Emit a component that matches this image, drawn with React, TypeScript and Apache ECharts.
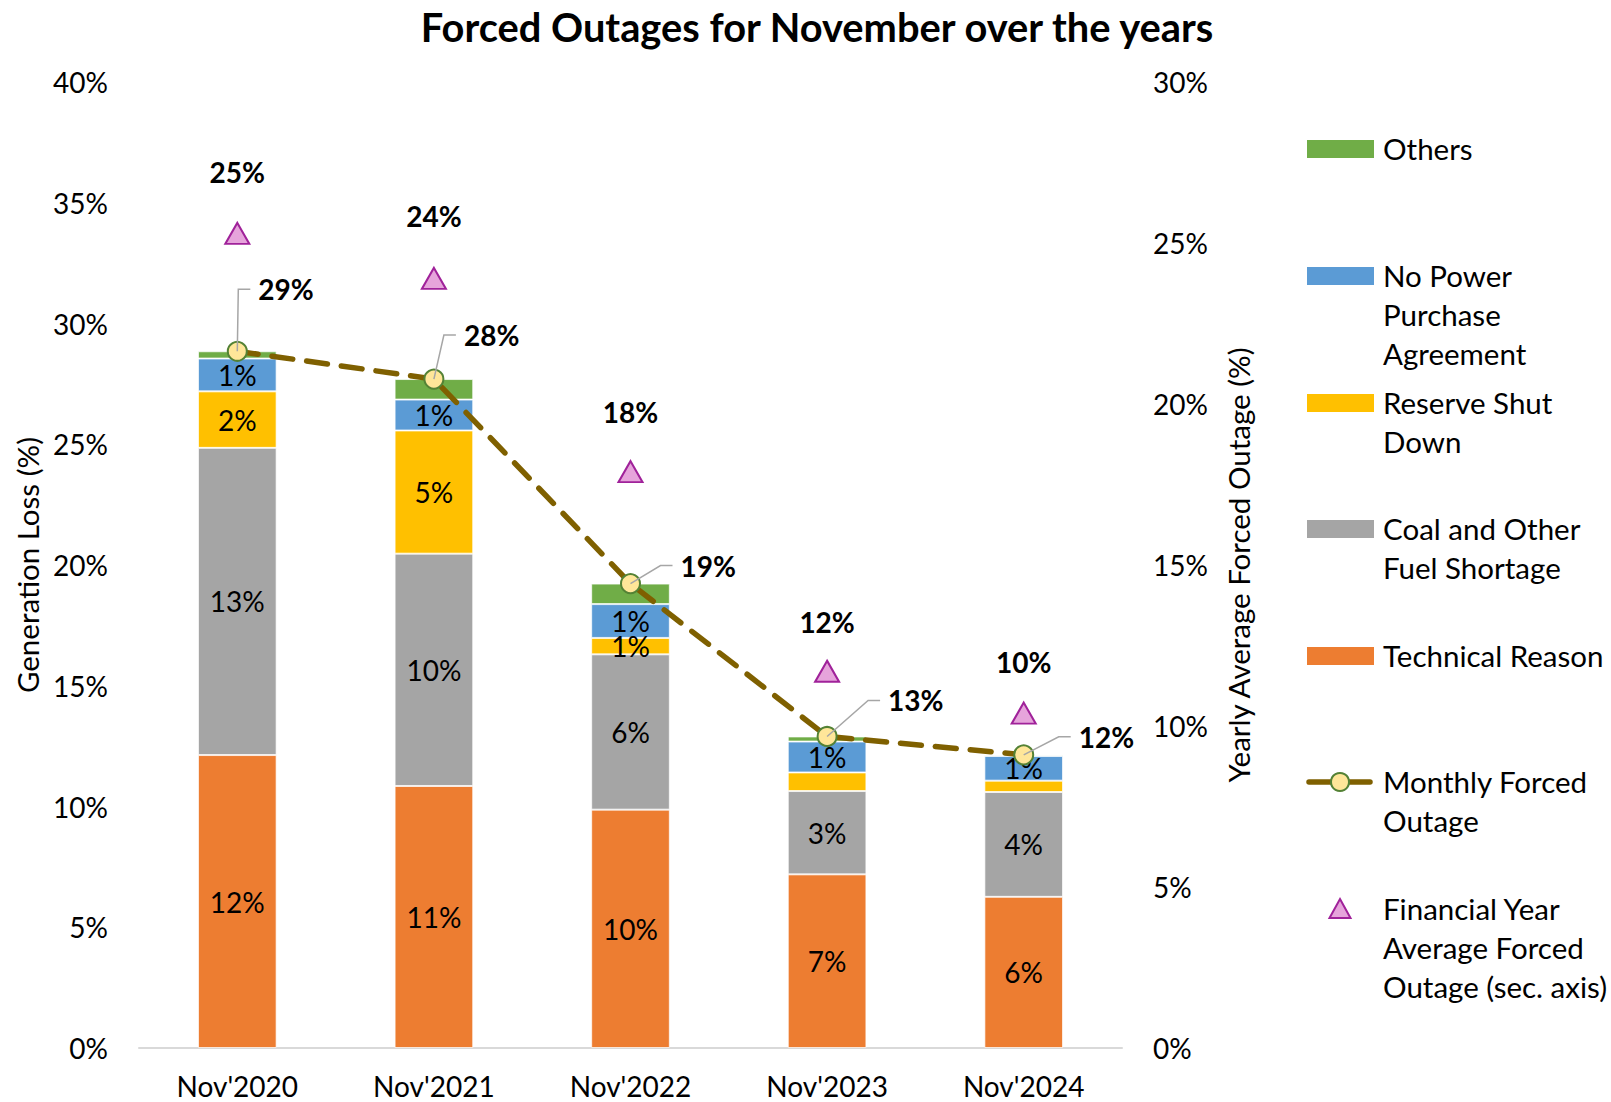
import React, { useEffect, useRef } from "react";
import * as echarts from "echarts";

const categories = ["Nov'2020", "Nov'2021", "Nov'2022", "Nov'2023", "Nov'2024"];
const technicalReason = [12.13, 10.85, 9.87, 7.19, 6.26];
const coalShortage = [12.72, 9.62, 6.43, 3.45, 4.34];
const reserveShutDown = [2.34, 5.1, 0.68, 0.77, 0.47];
const noPPA = [1.36, 1.28, 1.4, 1.28, 1.02];
const others = [0.3, 0.85, 0.85, 0.21, 0.05];
const monthlyForcedOutage = [28.85, 27.7, 19.23, 12.9, 12.14];
const fyAverageForcedOutage = [25.3, 23.9, 17.9, 11.7, 10.4];
const reserveLabelShown = [true, true, true, false, false];
const monthlyLabelOffsets = [
  [21, -62],
  [30, -44],
  [50, -18],
  [61, -36],
  [55, -18],
];
const fyLabelDistances = [36, 37, 34, 24, 26];

const legendNames = [
  "Others",
  "No Power\nPurchase\nAgreement",
  "Reserve Shut\nDown",
  "Coal and Other\nFuel Shortage",
  "Technical Reason",
  "Monthly Forced\nOutage",
  "Financial Year\nAverage Forced\nOutage (sec. axis)",
];

const C = {
  orange: "#ED7D31",
  gray: "#A5A5A5",
  yellow: "#FFC000",
  blue: "#5B9BD5",
  green: "#70AD47",
  line: "#7F6000",
  marker: "#FFE699",
  markerBorder: "#548235",
  tri: "#E6A4DB",
  triBorder: "#A0229A",
};

const FONT = "Lato";
const FS = 28;
const FS_TEXT = 29.5;
const pct = (v: number) => Math.round(v) + "%";

export default function App() {
  const ref = useRef<HTMLDivElement>(null);
  useEffect(() => {
    const chart = echarts.init(ref.current!, null, { renderer: "svg" });

    const barSeries = (
      name: string,
      data: number[],
      color: string,
      showLabel: (i: number) => boolean
    ) => ({
      name,
      type: "bar",
      stack: "total",
      barWidth: "40%",
      data: data.map((v, i) => ({
        value: v,
        label: { show: showLabel(i) },
      })),
      itemStyle: { color, borderColor: "rgba(255,255,255,0.7)", borderWidth: 1 },
      label: {
        show: true,
        position: "inside",
        color: "#000",
        fontFamily: FONT,
        fontSize: FS,
        formatter: (p: any) => pct(p.value),
      },
    });

    const legendIcons: any[] = [];
    const legendColors = [C.green, C.blue, C.yellow, C.gray, C.orange];
    const rowY = [149, 276, 403, 529, 656, 782, 909];
    legendNames.forEach((name, i) => {
      const yc = rowY[i];
      if (i < 5) {
        legendIcons.push({
          type: "rect",
          shape: { x: 1307, y: yc - 9, width: 67, height: 18 },
          style: { fill: legendColors[i] },
        });
      } else if (i === 5) {
        legendIcons.push({
          type: "line",
          shape: { x1: 1309, y1: yc, x2: 1370, y2: yc },
          style: { stroke: C.line, lineWidth: 5.5, lineCap: "round" },
        });
        legendIcons.push({
          type: "circle",
          shape: { cx: 1340, cy: yc, r: 9 },
          style: { fill: C.marker, stroke: C.markerBorder, lineWidth: 2 },
        });
      } else {
        legendIcons.push({
          type: "polygon",
          shape: {
            points: [
              [1340, yc - 10],
              [1350.5, yc + 9],
              [1329.5, yc + 9],
            ],
          },
          style: { fill: C.tri, stroke: C.triBorder, lineWidth: 2 },
        });
      }
      legendIcons.push({
        type: "text",
        x: 1383,
        y: yc - 20.5,
        style: {
          text: name,
          fontFamily: FONT,
          fontSize: FS_TEXT,
          fill: "#000",
          lineHeight: 39,
          verticalAlign: "top",
          align: "left",
        },
      });
    });

    const option: any = {
      animation: false,
      backgroundColor: "#fff",
      title: {
        text: "Forced Outages for November over the years",
        left: 812,
        top: 1,
        textAlign: "center",
        textStyle: { fontFamily: FONT, fontWeight: "bold", fontSize: 39.8, color: "#000" },
      },
      grid: { left: 139, right: 489, top: 82, bottom: 54, containLabel: false },
      xAxis: {
        type: "category",
        data: categories,
        axisLine: { lineStyle: { color: "#D9D9D9", width: 2 } },
        axisTick: { show: false },
        axisLabel: { color: "#000", fontFamily: FONT, fontSize: FS, margin: 24 },
      },
      yAxis: [
        {
          type: "value",
          min: 0,
          max: 40,
          interval: 5,
          splitLine: { show: false },
          axisLine: { show: false },
          axisTick: { show: false },
          axisLabel: {
            formatter: "{value}%",
            color: "#000",
            fontFamily: FONT,
            fontSize: FS,
            margin: 31,
          },
          name: "Generation Loss (%)",
          nameLocation: "middle",
          nameRotate: 90,
          nameGap: 96,
          nameTextStyle: { color: "#000", fontFamily: FONT, fontSize: FS_TEXT },
        },
        {
          type: "value",
          position: "right",
          min: 0,
          max: 30,
          interval: 5,
          splitLine: { show: false },
          axisLine: { show: false },
          axisTick: { show: false },
          axisLabel: {
            formatter: "{value}%",
            color: "#000",
            fontFamily: FONT,
            fontSize: FS,
            margin: 31,
          },
          name: "Yearly Average Forced Outage (%)",
          nameLocation: "middle",
          nameRotate: 90,
          nameGap: 101,
          nameTextStyle: { color: "#000", fontFamily: FONT, fontSize: FS_TEXT },
        },
      ],
      graphic: legendIcons,
      series: [
        barSeries("Technical Reason", technicalReason, C.orange, () => true),
        barSeries("Coal and Other Fuel Shortage", coalShortage, C.gray, () => true),
        barSeries("Reserve Shut Down", reserveShutDown, C.yellow, (i) => reserveLabelShown[i]),
        barSeries("No Power Purchase Agreement", noPPA, C.blue, () => true),
        barSeries("Others", others, C.green, () => false),
        {
          name: "Monthly Forced Outage",
          type: "line",
          yAxisIndex: 0,
          data: monthlyForcedOutage,
          symbol: "circle",
          symbolSize: 19,
          z: 5,
          itemStyle: { color: C.marker, borderColor: C.markerBorder, borderWidth: 2 },
          lineStyle: { color: C.line, width: 5.5, type: [21, 14], cap: "round" },
          label: {
            show: true,
            position: "inside",
            align: "left",
            verticalAlign: "middle",
            color: "#000",
            fontFamily: FONT,
            fontWeight: "bold",
            fontSize: FS,
            formatter: (p: any) => pct(p.value),
          },
          labelLayout: (p: any) => ({
            dx: monthlyLabelOffsets[p.dataIndex][0],
            dy: monthlyLabelOffsets[p.dataIndex][1],
          }),
        },
        {
          name: "Monthly label leaders",
          type: "custom",
          yAxisIndex: 0,
          z: 6,
          silent: true,
          data: monthlyForcedOutage.map((v, i) => [i, v]),
          renderItem: (params: any, api: any) => {
            const p = api.coord([api.value(0), api.value(1)]);
            const [dx, dy] = monthlyLabelOffsets[params.dataIndex];
            return {
              type: "polyline",
              shape: {
                points: [
                  [p[0], p[1]],
                  [p[0] + dx - 20, p[1] + dy],
                  [p[0] + dx - 8, p[1] + dy],
                ],
              },
              style: { stroke: "#A6A6A6", lineWidth: 1.5, fill: "none" },
            };
          },
        },
        {
          name: "Financial Year Average Forced Outage (sec. axis)",
          type: "scatter",
          yAxisIndex: 1,
          data: fyAverageForcedOutage.map((v, i) => ({
            value: v,
            label: { distance: fyLabelDistances[i] },
          })),
          symbol: "triangle",
          symbolSize: [24, 21],
          z: 4,
          itemStyle: { color: C.tri, borderColor: C.triBorder, borderWidth: 2, opacity: 1 },
          label: {
            show: true,
            position: "top",
            distance: 36,
            color: "#000",
            opacity: 1,
            fontFamily: FONT,
            fontWeight: "bold",
            fontSize: FS,
            formatter: (p: any) => pct(p.value),
          },
        },
      ],
    };
    chart.setOption(option);
    return () => chart.dispose();
  }, []);
  return (
    <div
      ref={ref}
      style={{ position: "fixed", left: 0, top: 0, width: 1611, height: 1102 }}
    />
  );
}
